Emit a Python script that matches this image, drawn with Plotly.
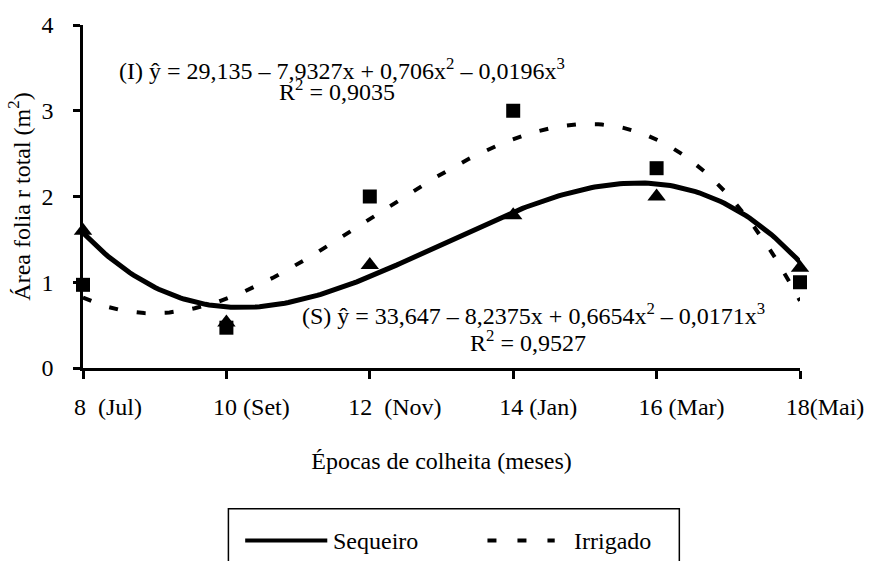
import numpy as np
import plotly.graph_objects as go

# Harvest dates (months after planting) and their axis labels
meses = [8, 10, 12, 14, 16, 18]
rotulos_meses = ["8\u00a0\u00a0(Jul)", "10 (Set)", "12\u00a0\u00a0(Nov)", "14 (Jan)", "16 (Mar)", "18(Mai)"]

# Total leaf area (m²) observed per regime
sequeiro = [1.60, 0.53, 1.20, 1.78, 2.00, 1.17]
irrigado = [0.97, 0.47, 2.00, 3.00, 2.33, 1.00]

# Cubic regression coefficients b0, b1, b2, b3 and R² for each regime
coef_sequeiro = [33.647, -8.2375, 0.6654, -0.0171]
coef_irrigado = [29.135, -7.9327, 0.706, -0.0196]
r2_sequeiro = 0.9527
r2_irrigado = 0.9035

FONT = "Liberation Serif, Times New Roman, serif"
FS = 24


def ajuste(coef, x):
    return sum(c * x ** i for i, c in enumerate(coef))


def num(v):
    return f"{abs(v)}".replace(".", ",")


def equacao(tag, coef):
    b0, b1, b2, b3 = coef
    return (f"({tag}) ŷ = {num(b0)} – {num(b1)}x + {num(b2)}x<sup>2</sup>"
            f" – {num(b3)}x<sup>3</sup>")


x_curva = np.linspace(meses[0], meses[-1], 200)

fig = go.Figure()

# fitted curves
fig.add_trace(go.Scatter(x=x_curva, y=ajuste(coef_sequeiro, x_curva), mode="lines",
                         line=dict(color="black", width=5), name="Sequeiro",
                         showlegend=False, cliponaxis=False, hoverinfo="skip"))
fig.add_trace(go.Scatter(x=x_curva, y=ajuste(coef_irrigado, x_curva), mode="lines",
                         line=dict(color="black", width=4, dash="9px,19px"), name="Irrigado",
                         showlegend=False, cliponaxis=False, hoverinfo="skip"))

# observed points
fig.add_trace(go.Scatter(x=meses, y=sequeiro, mode="markers",
                         marker=dict(symbol="triangle-up", size=16, color="black"),
                         name="Sequeiro", showlegend=False, cliponaxis=False))
fig.add_trace(go.Scatter(x=meses, y=irrigado, mode="markers",
                         marker=dict(symbol="square", size=14, color="black"),
                         name="Irrigado", showlegend=False, cliponaxis=False))

txt = dict(family=FONT, size=FS, color="black")
annotations = [
    dict(x=0.048, y=0.872, xref="paper", yref="paper", xanchor="left", yanchor="middle",
         text=equacao("I", coef_irrigado), showarrow=False, font=txt),
    dict(x=0.3545, y=0.810, xref="paper", yref="paper", xanchor="center", yanchor="middle",
         text=f"R<sup>2</sup> = {num(r2_irrigado)}", showarrow=False, font=txt),
    dict(x=0.302, y=0.158, xref="paper", yref="paper", xanchor="left", yanchor="middle",
         text=equacao("S", coef_sequeiro), showarrow=False, font=txt),
    dict(x=0.621, y=0.080, xref="paper", yref="paper", xanchor="center", yanchor="middle",
         text=f"R<sup>2</sup> = {num(r2_sequeiro)}", showarrow=False, font=txt),
]

# legend box drawn below the plot
ly = -0.503
shapes = [
    dict(type="rect", xref="paper", yref="paper", x0=0.2028, x1=0.8317, y0=-0.41, y1=-0.70,
         line=dict(color="black", width=1.5), fillcolor="white", layer="below"),
    dict(type="line", xref="paper", yref="paper", x0=0.2262, x1=0.3407, y0=ly, y1=ly,
         line=dict(color="black", width=4)),
    dict(type="line", xref="paper", yref="paper", x0=0.5641, x1=0.6579, y0=ly, y1=ly,
         line=dict(color="black", width=4, dash="9px,21px")),
]
annotations += [
    dict(x=0.3462, y=ly, xref="paper", yref="paper", xanchor="left", yanchor="middle",
         text="Sequeiro", showarrow=False, font=txt),
    dict(x=0.6814, y=ly, xref="paper", yref="paper", xanchor="left", yanchor="middle",
         text="Irrigado", showarrow=False, font=txt),
]

fig.update_layout(
    width=876, height=561,
    margin=dict(l=83, r=68, t=22, b=193),
    paper_bgcolor="white", plot_bgcolor="white",
    font=txt,
    showlegend=False,
    annotations=annotations,
    shapes=shapes,
    xaxis=dict(range=[8, 18], tickvals=meses, ticktext=rotulos_meses,
               showline=True, linecolor="black", linewidth=2.5,
               ticks="outside", ticklen=8, tickwidth=2.5, tickcolor="black",
               ticklabelshift=25, ticklabelstandoff=7,
               showgrid=False, zeroline=False,
               title=dict(text="Épocas de colheita (meses)", standoff=34, font=txt),
               tickfont=txt),
    yaxis=dict(range=[0, 4], tickvals=[0, 1, 2, 3, 4],
               showline=True, linecolor="black", linewidth=2.5,
               ticks="outside", ticklen=7, tickwidth=2.5, tickcolor="black",
               ticklabelstandoff=15,
               showgrid=False, zeroline=False,
               title=dict(text="Área folia r total (m<sup>2</sup>)", standoff=5, font=txt),
               tickfont=txt),
)

fig.write_html("out.html")
